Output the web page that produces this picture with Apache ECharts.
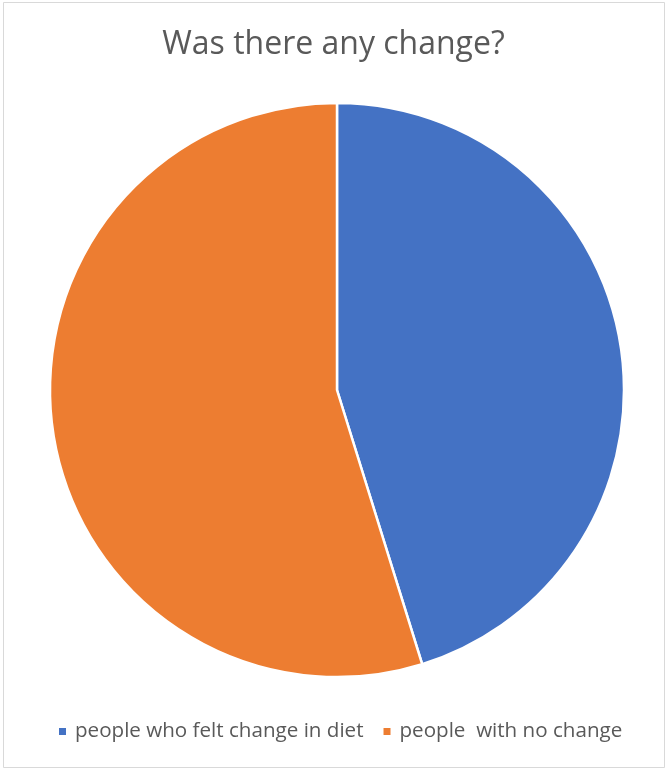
<!DOCTYPE html>
<html>
<head>
<meta charset="utf-8">
<script src="https://cdn.jsdelivr.net/npm/echarts@6/dist/echarts.min.js"></script>
<style>
  html, body { margin: 0; padding: 0; background: #fff; }
  #chart { width: 667px; height: 769px; }
</style>
</head>
<body>
<div id="chart"></div>
<script>
// Survey answers: did people notice a change in their diet?
const categories = ['people who felt change in diet', 'people  with no change'];
const counts = [33, 40];
const colors = ['#4472C4', '#ED7D31'];

const chart = echarts.init(document.getElementById('chart'), null, { renderer: 'canvas' });

const pieData = categories.map((name, i) => ({
  name: name,
  value: counts[i],
  itemStyle: { color: colors[i] }
}));

chart.setOption({
  animation: false,
  backgroundColor: '#ffffff',
  graphic: [{
    type: 'rect',
    shape: { x: 3.5, y: 2.5, width: 661, height: 765 },
    style: { fill: 'none', stroke: '#d9d9d9', lineWidth: 1 },
    silent: true
  }],
  title: {
    text: 'Was there any change?',
    left: 'center',
    top: 24,
    textStyle: {
      fontFamily: 'Open Sans',
      fontSize: 32,
      fontWeight: 'normal',
      color: '#595959'
    }
  },
  legend: {
    bottom: 22,
    left: 52,
    icon: 'rect',
    itemWidth: 9,
    itemHeight: 9,
    itemGap: 18,
    textStyle: {
      fontFamily: 'Open Sans',
      fontSize: 20.6,
      color: '#595959',
      padding: [0, 0, 0, 3]
    },
    data: categories
  },
  series: [{
    type: 'pie',
    center: [337, 390],
    radius: [0, 287],
    startAngle: 90,
    clockwise: true,
    label: { show: false },
    labelLine: { show: false },
    itemStyle: { borderColor: '#ffffff', borderWidth: 2.5 },
    emphasis: { disabled: true },
    data: pieData
  }]
});
</script>
</body>
</html>
